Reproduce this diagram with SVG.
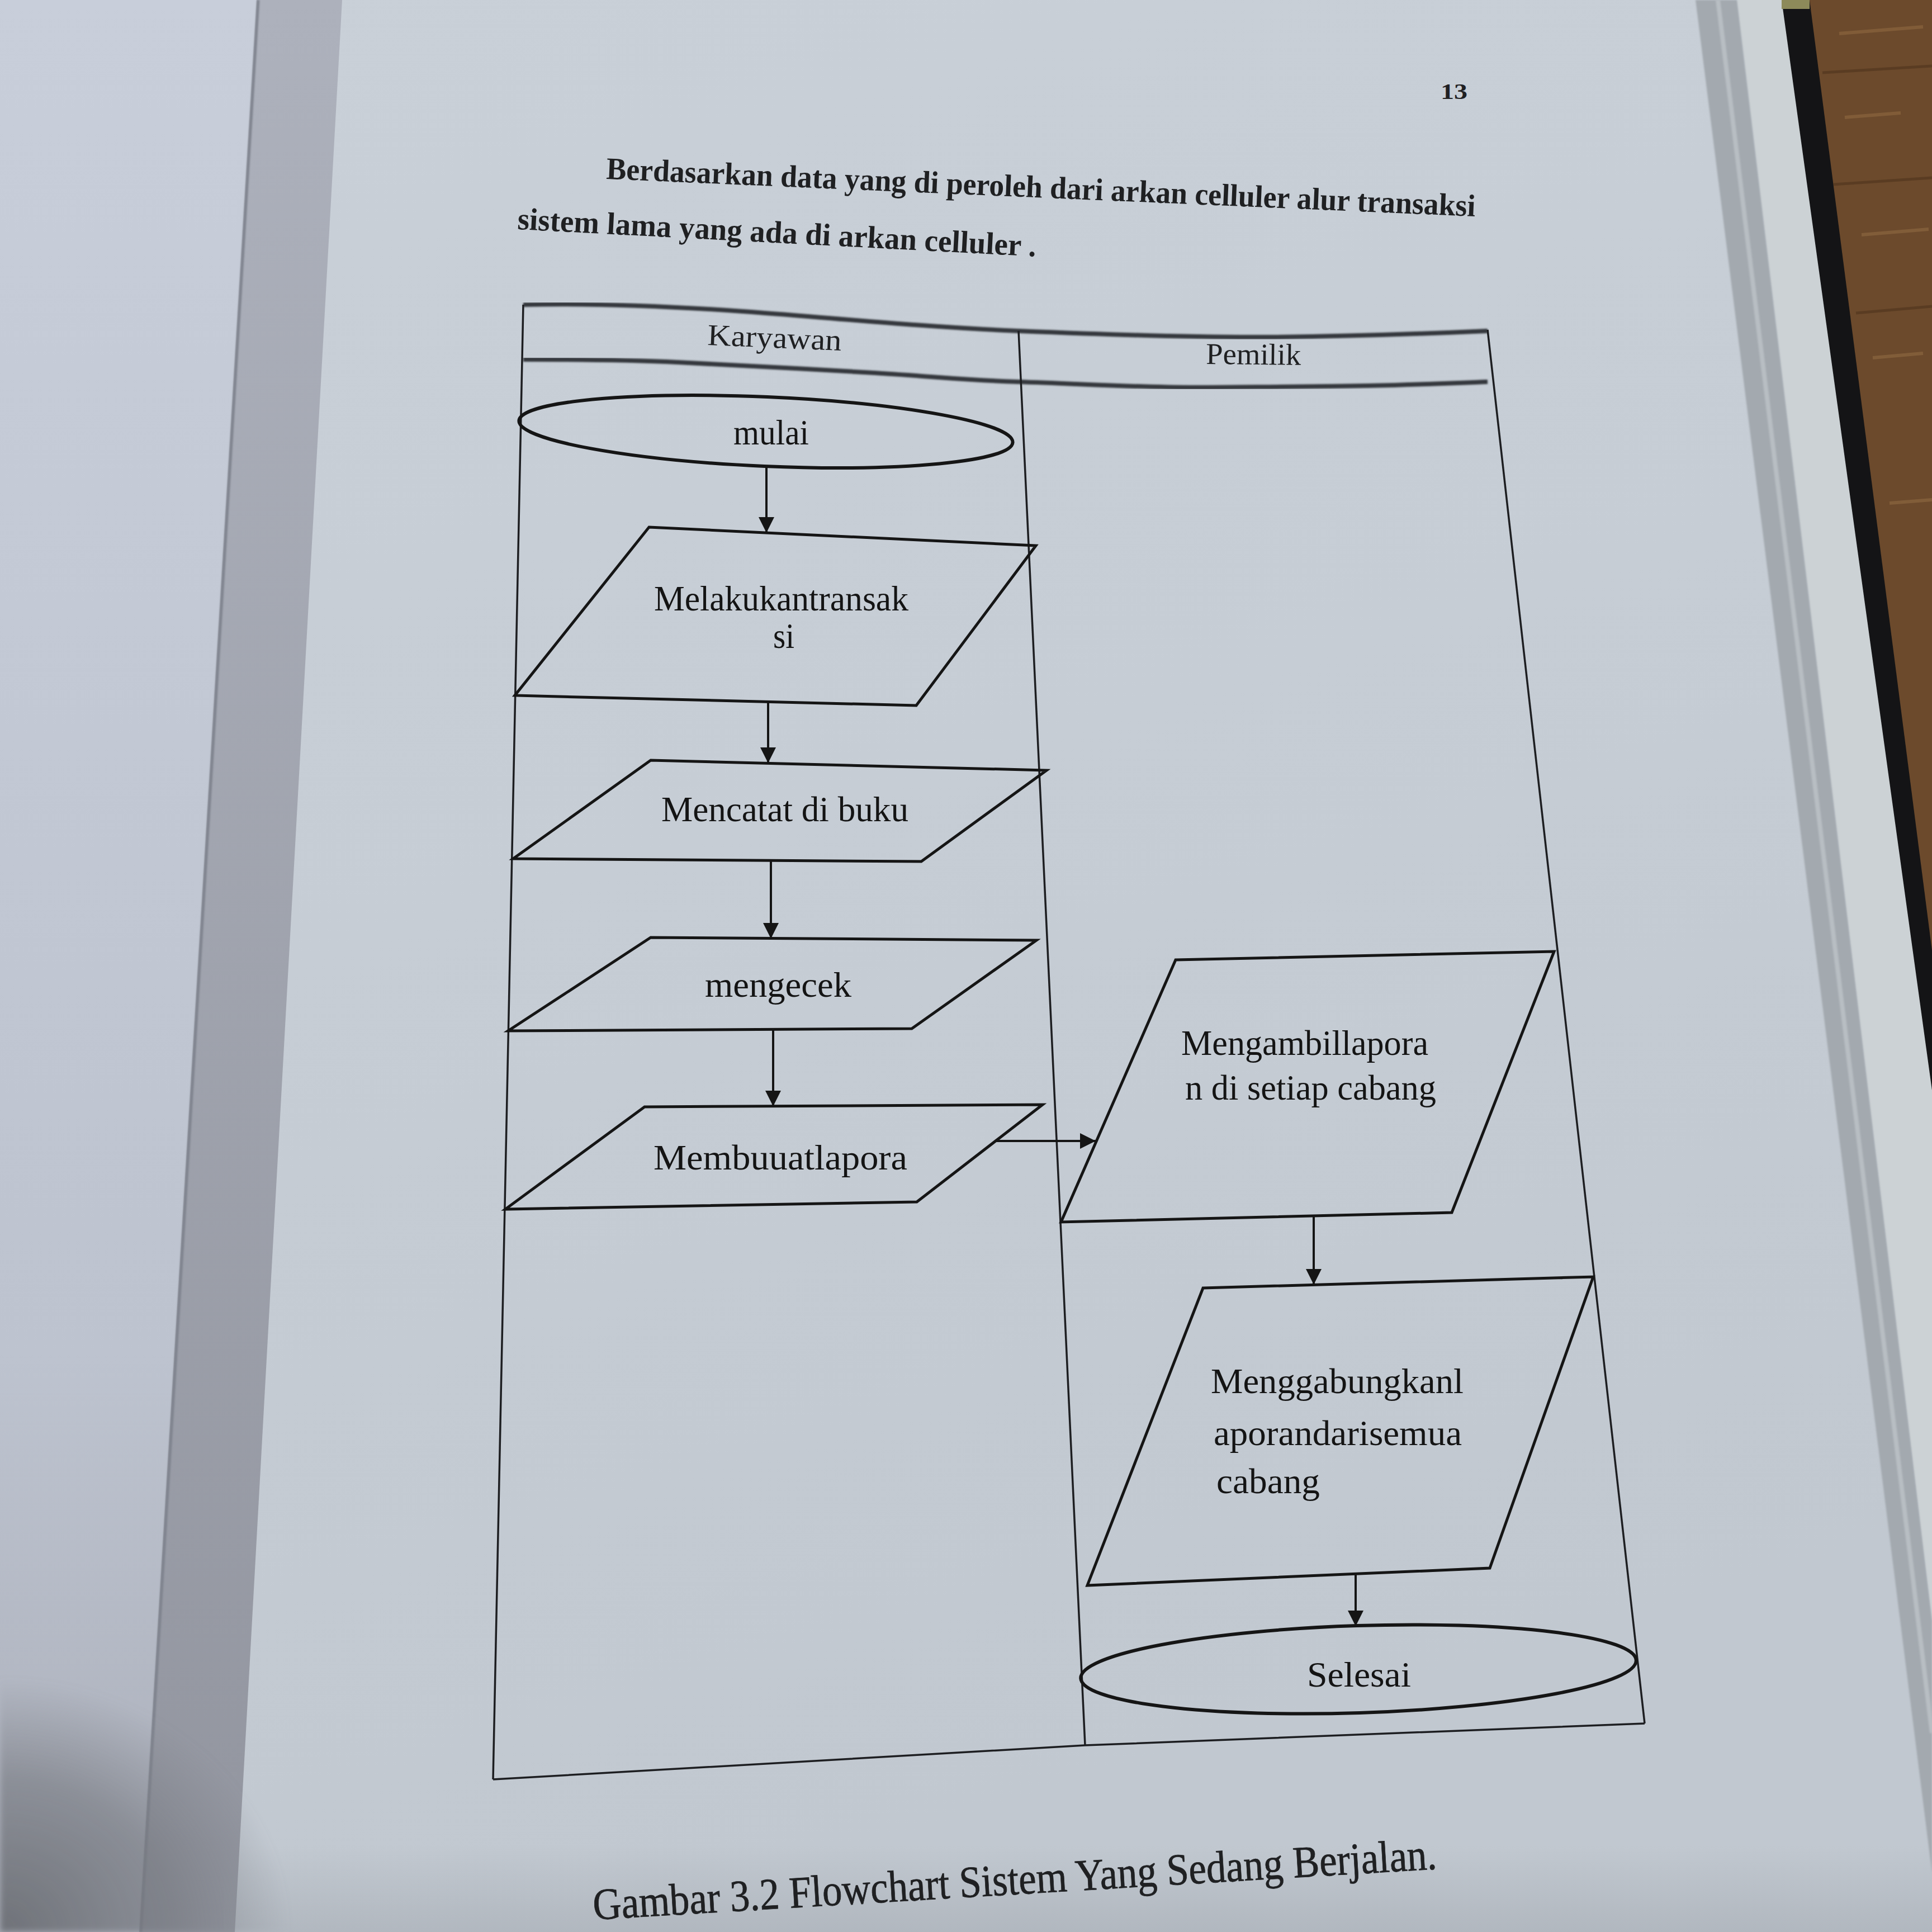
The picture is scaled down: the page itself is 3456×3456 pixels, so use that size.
<svg xmlns="http://www.w3.org/2000/svg" width="3456" height="3456" viewBox="0 0 3456 3456">
  <defs>
    <style>
      .page-text { font-family: "Liberation Serif", "Times New Roman", serif; fill: #1f2022; }
      .label { font-family: "Liberation Serif", "Times New Roman", serif; font-size: 64px; fill: #141414; }
      .shape { fill: none; stroke: #151515; stroke-width: 5; stroke-linejoin: miter; }
      .oval { fill: none; stroke: #151515; stroke-width: 6; }
      .lane { fill: none; stroke: #1d1e21; stroke-width: 3.5; }
      .lane-head { fill: none; stroke: #34373c; stroke-width: 8; }
      .edge { fill: none; stroke: #151515; stroke-width: 4; marker-end: url(#arrow); }
    </style>
    <marker id="arrow" viewBox="0 0 10 10" refX="10" refY="5" markerWidth="32" markerHeight="28" markerUnits="userSpaceOnUse" orient="auto">
      <path d="M0,0 L10,5 L0,10 z" fill="#151515"/>
    </marker>
    <linearGradient id="paper" x1="0" y1="0" x2="0.3" y2="1">
      <stop offset="0" stop-color="#c9d0d8"/>
      <stop offset="0.5" stop-color="#c6cdd5"/>
      <stop offset="1" stop-color="#c1c8d0"/>
    </linearGradient>
    <linearGradient id="leftPage" x1="0" y1="0" x2="0" y2="1">
      <stop offset="0" stop-color="#c8ceda"/>
      <stop offset="0.7" stop-color="#bdc3cf"/>
      <stop offset="1" stop-color="#abafba"/>
    </linearGradient>
    <linearGradient id="gutter" x1="0" y1="0" x2="0" y2="1">
      <stop offset="0" stop-color="#adb1bc"/>
      <stop offset="1" stop-color="#92959f"/>
    </linearGradient>
    <radialGradient id="cornerShade" cx="0" cy="1" r="1">
      <stop offset="0" stop-color="#6c6f75" stop-opacity="0.95"/>
      <stop offset="0.6" stop-color="#74777e" stop-opacity="0.6"/>
      <stop offset="1" stop-color="#7a7d84" stop-opacity="0"/>
    </radialGradient>
    <linearGradient id="bottomShade" x1="0" y1="0" x2="0" y2="1">
      <stop offset="0" stop-color="#8c9198" stop-opacity="0"/>
      <stop offset="1" stop-color="#8c9198" stop-opacity="0.3"/>
    </linearGradient>
    <filter id="soft" x="-5%" y="-5%" width="110%" height="110%">
      <feGaussianBlur stdDeviation="1.6"/>
    </filter>
    <filter id="blurWide" x="-50%" y="-50%" width="200%" height="200%">
      <feGaussianBlur stdDeviation="6"/>
    </filter>
  </defs>

  <!-- open book: paper, facing page, gutter, page edges and table top -->
  <rect x="0" y="0" width="3456" height="3456" fill="url(#paper)"/>
  <polygon points="0,0 459,0 249,3456 0,3456" fill="url(#leftPage)"/>
  <polygon points="459,0 612,0 420,3456 249,3456" fill="url(#gutter)"/>
  <polyline points="462,0 252,3456" fill="none" stroke="#7f838e" stroke-width="5" filter="url(#soft)"/>
  <rect x="0" y="3000" width="520" height="456" fill="url(#cornerShade)" filter="url(#blurWide)"/>
  <rect x="400" y="3300" width="3056" height="156" fill="url(#bottomShade)"/>

  <polygon points="3107,0 3456,0 3456,2900" fill="#ccd2d5"/>
  <polygon points="3033,0 3107,0 3456,2900 3456,3350" fill="#a3a9af" filter="url(#soft)"/>
  <polyline points="3073,0 3456,3100" fill="none" stroke="#b8bec3" stroke-width="8" filter="url(#soft)"/>
  <polygon points="3187,0 3456,0 3456,1950" fill="#141416"/>
  <polygon points="3237,0 3456,0 3456,1700" fill="#6c4a2c"/>
  <g stroke="#8a653e" stroke-width="6" opacity="0.7" fill="none">
    <path d="M3290,60 L3440,48"/>
    <path d="M3300,210 L3400,202"/>
    <path d="M3330,420 L3450,410"/>
    <path d="M3350,640 L3440,632"/>
    <path d="M3380,900 L3456,894"/>
  </g>
  <g stroke="#4e331c" stroke-width="5" opacity="0.6" fill="none">
    <path d="M3260,130 L3456,118"/>
    <path d="M3280,330 L3456,318"/>
    <path d="M3320,560 L3456,548"/>
  </g>
  <rect x="3187" y="0" width="50" height="16" fill="#8d8a5a"/>

  <!-- running text -->
  <text class="page-text" x="2577" y="177" font-family="DejaVu Sans, sans-serif" font-weight="bold" font-size="40" textLength="48" lengthAdjust="spacingAndGlyphs">13</text>
  <text class="page-text" font-weight="bold" font-size="56" x="1084" y="320" transform="rotate(2.47 1084 320)" textLength="1556" lengthAdjust="spacingAndGlyphs">Berdasarkan data yang di peroleh dari arkan celluler alur transaksi</text>
  <text class="page-text" font-weight="bold" font-size="56" x="925" y="410" transform="rotate(3.0 925 410)" textLength="929" lengthAdjust="spacingAndGlyphs">sistem lama yang ada di arkan celluler .</text>

  <!-- swimlane frame -->
  <g id="lanes">
    <path class="lane-head" filter="url(#soft)" d="M936,545 C1050,542 1200,548 1329,557 S1650,585 1822,592 S2150,604 2268,603 S2550,597 2661,592"/>
    <path class="lane-head" filter="url(#soft)" d="M936,643 C1050,643 1150,645 1212,648 S1450,660 1564,667 S1720,680 1822,683 S2050,694 2151,693 S2350,692 2444,690 S2580,686 2661,683"/>
    <line class="lane" x1="936" y1="545" x2="882" y2="3183"/>
    <line class="lane" x1="1822" y1="592" x2="1941" y2="3122"/>
    <line class="lane" x1="2661" y1="590" x2="2942" y2="3083"/>
    <polyline class="lane" stroke-width="5" points="882,3183 1941,3122 2942,3083"/>
    <text class="page-text" font-size="54" x="1265" y="617" transform="rotate(2.4 1265 617)" textLength="240" lengthAdjust="spacingAndGlyphs">Karyawan</text>
    <text class="page-text" font-size="54" x="2157" y="651" transform="rotate(0.6 2157 651)" textLength="170" lengthAdjust="spacingAndGlyphs">Pemilik</text>
  </g>

  <!-- flow nodes -->
  <g id="mulai">
    <ellipse class="oval" cx="1370" cy="772" rx="442" ry="62" transform="rotate(2.5 1370 772)"/>
    <text class="label" x="1312" y="795" textLength="135" lengthAdjust="spacingAndGlyphs">mulai</text>
  </g>
  <g id="melakukan-transaksi">
    <polygon class="shape" points="1161,943 1853,976 1639,1262 921,1244"/>
    <text class="label" x="1170" y="1092" textLength="455" lengthAdjust="spacingAndGlyphs">Melakukantransak</text>
    <text class="label" x="1383" y="1159" textLength="38" lengthAdjust="spacingAndGlyphs">si</text>
  </g>
  <g id="mencatat">
    <polygon class="shape" points="1164,1360 1872,1378 1648,1541 918,1536"/>
    <text class="label" x="1183" y="1469" textLength="442" lengthAdjust="spacingAndGlyphs">Mencatat di buku</text>
  </g>
  <g id="mengecek">
    <polygon class="shape" points="1164,1677 1854,1682 1631,1840 909,1844"/>
    <text class="label" x="1261" y="1783" textLength="262" lengthAdjust="spacingAndGlyphs">mengecek</text>
  </g>
  <g id="membuat-laporan">
    <polygon class="shape" points="1153,1980 1865,1976 1640,2150 904,2163"/>
    <text class="label" x="1169" y="2092" textLength="454" lengthAdjust="spacingAndGlyphs">Membuuatlapora</text>
  </g>
  <g id="mengambil-laporan">
    <polygon class="shape" points="2103,1717 2780,1702 2597,2169 1898,2186"/>
    <text class="label" x="2113" y="1887" textLength="442" lengthAdjust="spacingAndGlyphs">Mengambillapora</text>
    <text class="label" x="2120" y="1967" textLength="449" lengthAdjust="spacingAndGlyphs">n di setiap cabang</text>
  </g>
  <g id="menggabungkan-laporan">
    <polygon class="shape" points="2152,2304 2850,2284 2665,2805 1945,2836"/>
    <text class="label" x="2166" y="2492" textLength="452" lengthAdjust="spacingAndGlyphs">Menggabungkanl</text>
    <text class="label" x="2171" y="2585" textLength="444" lengthAdjust="spacingAndGlyphs">aporandarisemua</text>
    <text class="label" x="2176" y="2671" textLength="185" lengthAdjust="spacingAndGlyphs">cabang</text>
  </g>
  <g id="selesai">
    <ellipse class="oval" cx="2430" cy="2986" rx="497" ry="78" transform="rotate(-1.85 2430 2986)"/>
    <text class="label" x="2338" y="3017" textLength="186" lengthAdjust="spacingAndGlyphs">Selesai</text>
  </g>

  <!-- connectors -->
  <g id="connectors">
    <line class="edge" x1="1371" y1="834" x2="1371" y2="953"/>
    <line class="edge" x1="1374" y1="1255" x2="1374" y2="1365"/>
    <line class="edge" x1="1379" y1="1539" x2="1379" y2="1679"/>
    <line class="edge" x1="1383" y1="1842" x2="1383" y2="1979"/>
    <line class="edge" x1="1781" y1="2041" x2="1960" y2="2041"/>
    <line class="edge" x1="2350" y1="2175" x2="2350" y2="2298"/>
    <line class="edge" x1="2425" y1="2815" x2="2425" y2="2909"/>
  </g>

  <!-- figure caption -->
  <text class="page-text" font-size="80" stroke="#1f2022" stroke-width="0.8" x="1062" y="3434" transform="rotate(-3.44 1062 3434)" textLength="1512" lengthAdjust="spacingAndGlyphs">Gambar 3.2 Flowchart Sistem Yang Sedang Berjalan.</text>
</svg>
